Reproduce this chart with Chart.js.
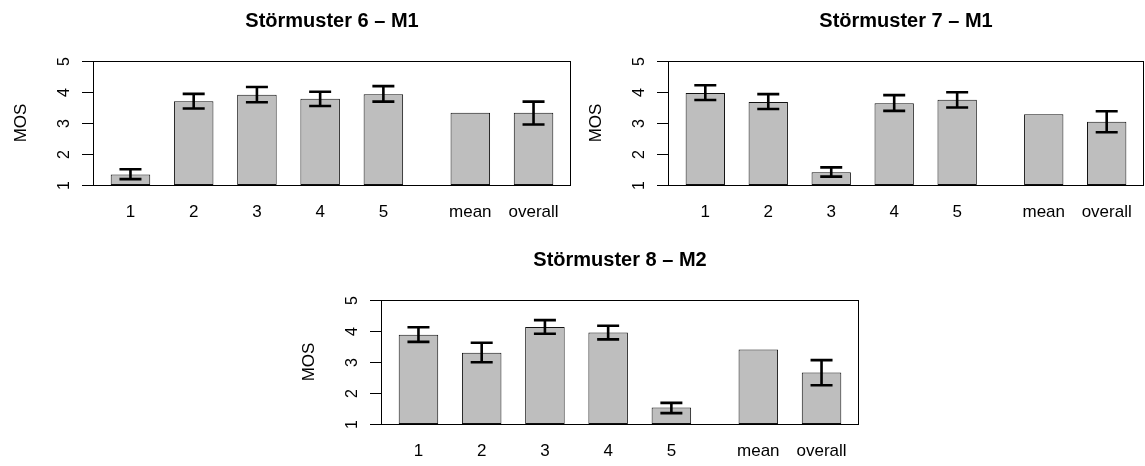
<!DOCTYPE html>
<html>
<head>
<meta charset="utf-8">
<script src="https://cdn.jsdelivr.net/npm/chart.js@4.4.1/dist/chart.umd.min.js"></script>
<style>
  html, body { margin: 0; padding: 0; background: #fff; }
  #wrap { position: relative; width: 1145px; height: 466px; overflow: hidden; }
  .panel { position: absolute; width: 572px; }
</style>
</head>
<body>
<div id="wrap">
  <div class="panel" style="left:0;top:0;height:233px"><canvas id="p6"></canvas></div>
  <div class="panel" style="left:575px;top:0;width:570px;height:233px"><canvas id="p7"></canvas></div>
  <div class="panel" style="left:288px;top:239px;height:227px"><canvas id="p8"></canvas></div>
</div>
<script>
// bar labels and MOS values (with confidence interval ends) per noise pattern
const categories = ['1', '2', '3', '4', '5', 'mean', 'overall'];
const yTicks = [1, 2, 3, 4, 5];

const mos6 = [1.34, 3.70, 3.91, 3.78, 3.93, 3.33, 3.33];
const ciLow6 = [1.19, 3.47, 3.67, 3.55, 3.69, null, 2.95];
const ciHigh6 = [1.51, 3.94, 4.16, 4.01, 4.19, null, 3.69];

const mos7 = [3.97, 3.68, 1.41, 3.64, 3.75, 3.28, 3.04];
const ciLow7 = [3.74, 3.45, 1.27, 3.39, 3.50, null, 2.70];
const ciHigh7 = [4.22, 3.93, 1.57, 3.90, 3.99, null, 3.38];

const mos8 = [3.88, 3.30, 4.13, 3.95, 1.53, 3.40, 2.66];
const ciLow8 = [3.65, 2.99, 3.91, 3.73, 1.35, null, 2.25];
const ciHigh8 = [4.12, 3.62, 4.35, 4.17, 1.68, null, 3.06];

const FONT = "'Liberation Sans', Arial, Helvetica, sans-serif";

// barplot-like spacing: bar width 1, space 0.6, wider gap before the summary bars
function barCenter(i) {
  return 1.1 + i * 1.6 + (i >= 5 ? 0.6 : 0);
}

function makePanel(id, title, values, lo, hi) {
  const points = values.map((v, i) => ({ x: barCenter(i), y: v }));

  // box, rotated y ticks and error bars drawn on top of the bars
  const extras = {
    id: 'extras_' + id,
    afterDatasetsDraw(chart) {
      const { ctx, chartArea: a, scales: { x, y } } = chart;
      ctx.save();
      ctx.strokeStyle = '#000';
      ctx.lineWidth = 1;
      ctx.strokeRect(Math.round(a.left) + 0.5, Math.round(a.top) + 0.5,
        Math.round(a.right - a.left) - 1, Math.round(a.bottom - a.top));

      ctx.fillStyle = '#000';
      ctx.font = '16px ' + FONT;
      ctx.textAlign = 'center';
      ctx.textBaseline = 'middle';
      yTicks.forEach(v => {
        const py = Math.round(y.getPixelForValue(v)) + 0.5;
        ctx.beginPath();
        ctx.moveTo(a.left - 11, py);
        ctx.lineTo(a.left, py);
        ctx.stroke();
        ctx.save();
        ctx.translate(a.left - 28, py);
        ctx.rotate(-Math.PI / 2);
        ctx.fillText(String(v), 0, 0);
        ctx.restore();
      });

      ctx.lineWidth = 2.6;
      values.forEach((_, i) => {
        if (lo[i] == null) return;
        const px = x.getPixelForValue(barCenter(i));
        const y0 = y.getPixelForValue(lo[i]);
        const y1 = y.getPixelForValue(hi[i]);
        ctx.beginPath();
        ctx.moveTo(px, y0); ctx.lineTo(px, y1);
        ctx.moveTo(px - 11, y0); ctx.lineTo(px + 11, y0);
        ctx.moveTo(px - 11, y1); ctx.lineTo(px + 11, y1);
        ctx.stroke();
      });
      ctx.restore();
    }
  };

  new Chart(document.getElementById(id), {
    type: 'bar',
    data: {
      datasets: [{
        data: points,
        backgroundColor: '#bebebe',
        borderColor: '#111',
        borderWidth: 1,
        borderSkipped: false,
        barPercentage: 0.625,
        categoryPercentage: 1,
        base: 1
      }]
    },
    options: {
      responsive: true,
      maintainAspectRatio: false,
      animation: false,
      layout: { padding: { left: 0, right: 1, top: 0, bottom: 0 } },
      plugins: {
        legend: { display: false },
        tooltip: { enabled: false },
        title: {
          display: true,
          text: title,
          fullSize: false,
          color: '#000',
          font: { family: FONT, size: 20, weight: 'bold', lineHeight: 1.2 },
          padding: { top: 9, bottom: 28 }
        }
      },
      scales: {
        x: {
          type: 'linear',
          offset: false,
          min: 0.152,
          max: 12.248,
          grid: { display: false, offset: false },
          border: { display: false },
          afterBuildTicks: s => { s.ticks = values.map((_, i) => ({ value: barCenter(i) })); },
          afterFit: s => { s.height = s.chart.height - 185; },
          ticks: {
            autoSkip: false,
            maxRotation: 0,
            padding: 9,
            color: '#000',
            font: { family: FONT, size: 17 },
            callback: (v, i) => categories[i]
          }
        },
        y: {
          min: 1,
          max: 5,
          grid: { display: false },
          border: { display: false },
          ticks: { display: false },
          afterFit: s => { s.width = 93; },
          title: {
            display: true,
            text: 'MOS',
            color: '#000',
            font: { family: FONT, size: 17 },
            padding: { top: 11, bottom: 0 }
          }
        }
      }
    },
    plugins: [extras]
  });
}

makePanel('p6', 'Störmuster 6 – M1', mos6, ciLow6, ciHigh6);
makePanel('p7', 'Störmuster 7 – M1', mos7, ciLow7, ciHigh7);
makePanel('p8', 'Störmuster 8 – M2', mos8, ciLow8, ciHigh8);
</script>
</body>
</html>
